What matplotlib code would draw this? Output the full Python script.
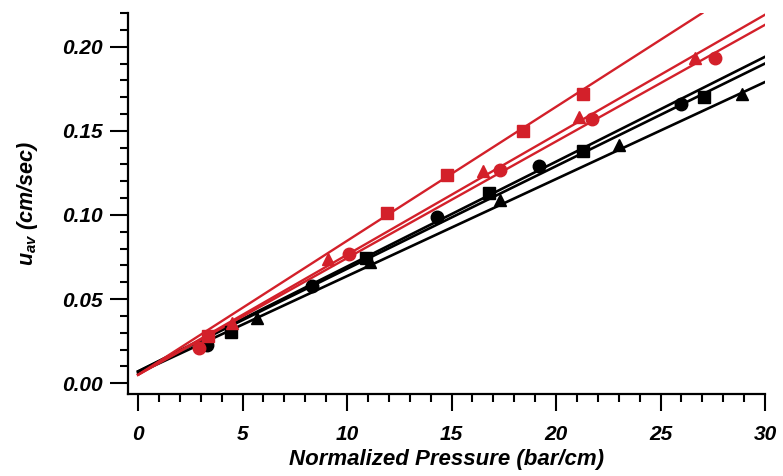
import matplotlib
matplotlib.use("Agg")
import matplotlib.pyplot as plt
from matplotlib.ticker import MultipleLocator

plt.rcParams['font.family'] = ['Liberation Sans', 'DejaVu Sans']
plt.rcParams['mathtext.fontset'] = 'custom'
plt.rcParams['mathtext.bfit'] = 'Liberation Sans:italic:bold'
plt.rcParams['mathtext.rm'] = 'Liberation Sans:bold'

RED = '#d3202a'
BLACK = '#000000'

# measured points (x: normalized pressure, y: u_av)
red_sq_x = [3.35, 11.9, 14.8, 18.4, 21.3]
red_sq_y = [0.028, 0.101, 0.124, 0.150, 0.172]
red_tri_x = [4.5, 9.1, 16.5, 21.1, 26.65]
red_tri_y = [0.036, 0.074, 0.126, 0.158, 0.193]
red_ci_x = [2.9, 10.1, 17.3, 21.7, 27.6]
red_ci_y = [0.021, 0.077, 0.127, 0.157, 0.193]
blk_ci_x = [3.3, 8.3, 14.3, 19.2, 26.0]
blk_ci_y = [0.0225, 0.058, 0.099, 0.129, 0.166]
blk_sq_x = [4.45, 10.9, 16.8, 21.3, 27.1]
blk_sq_y = [0.0305, 0.0745, 0.113, 0.138, 0.170]
blk_tri_x = [5.7, 11.1, 17.3, 23.0, 28.9]
blk_tri_y = [0.0385, 0.072, 0.109, 0.1415, 0.172]

# fitted lines: start/end x and y
red_sq_line = ([0, 27.0], [0.005, 0.220])
red_tri_line = ([0, 30], [0.005, 0.219])
red_ci_line = ([0, 30], [0.005, 0.213])
blk_ci_line = ([0, 30], [0.007, 0.194])
blk_sq_line = ([0, 30], [0.007, 0.190])
blk_tri_line = ([0, 30], [0.006, 0.179])

fig = plt.figure(figsize=(7.83, 4.76), dpi=100)
ax = fig.add_axes([0.1635, 0.1723, 0.8135, 0.801])

ax.plot(*blk_ci_line, color=BLACK, lw=1.9)
ax.plot(*blk_sq_line, color=BLACK, lw=1.9)
ax.plot(*blk_tri_line, color=BLACK, lw=1.9)
ax.plot(*red_sq_line, color=RED, lw=1.7)
ax.plot(*red_tri_line, color=RED, lw=1.7)
ax.plot(*red_ci_line, color=RED, lw=1.7)

ms = 9
ax.plot(blk_ci_x, blk_ci_y, 'o', color=BLACK, ms=ms)
ax.plot(blk_sq_x, blk_sq_y, 's', color=BLACK, ms=ms - 0.5)
ax.plot(blk_tri_x, blk_tri_y, '^', color=BLACK, ms=ms)
ax.plot(red_sq_x, red_sq_y, 's', color=RED, ms=ms - 0.5)
ax.plot(red_tri_x, red_tri_y, '^', color=RED, ms=ms)
ax.plot(red_ci_x, red_ci_y, 'o', color=RED, ms=ms)

ax.set_xlim(-0.48, 30)
ax.set_ylim(-0.0064, 0.2202)
ax.spines['top'].set_visible(False)
ax.spines['right'].set_visible(False)
for s in ['left', 'bottom']:
    ax.spines[s].set_linewidth(1.6)

ax.xaxis.set_major_locator(MultipleLocator(5))
ax.xaxis.set_minor_locator(MultipleLocator(1))
ax.yaxis.set_major_locator(MultipleLocator(0.05))
ax.yaxis.set_minor_locator(MultipleLocator(0.01))
ax.yaxis.set_major_formatter(matplotlib.ticker.FormatStrFormatter('%.2f'))

ax.tick_params(axis='x', which='major', length=12, width=1.5, pad=10)
ax.tick_params(axis='x', which='minor', length=6, width=1.5)
ax.tick_params(axis='y', which='major', length=13, width=1.5, pad=5)
ax.tick_params(axis='y', which='minor', length=6, width=1.5)

for lab in ax.get_xticklabels() + ax.get_yticklabels():
    lab.set_fontsize(15)
    lab.set_fontweight('bold')
    lab.set_fontstyle('italic')

ax.set_xlabel('Normalized Pressure (bar/cm)', fontsize=16, fontweight='bold',
              fontstyle='italic', labelpad=4)
ax.set_ylabel(r'$\mathbfit{u_{av}}$ (cm/sec)', fontsize=15.5, fontweight='bold',
              fontstyle='italic', labelpad=16)

fig.savefig('out.png', dpi=100)
